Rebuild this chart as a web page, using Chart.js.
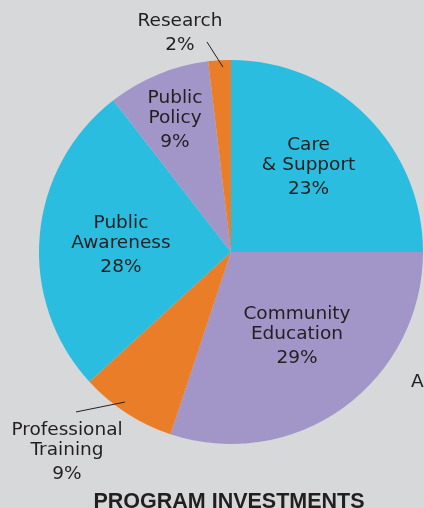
<!DOCTYPE html>
<html><head><meta charset="utf-8">
<script src="https://cdn.jsdelivr.net/npm/chart.js@4"></script>
<style>html,body{margin:0;padding:0;background:#d7d8da;overflow:hidden}#wrap{width:424px;height:508px;position:relative}canvas{display:block}</style>
</head><body><div id="wrap"><canvas id="c" width="424" height="508"></canvas></div>
<script>
const categories = ['Care & Support','Community Education','Professional Training','Public Awareness','Public Policy','Research'];
const labelLines = [['Care','& Support'],['Community','Education'],['Professional','Training'],['Public','Awareness'],['Public','Policy'],['Research']];
const sliceShares = [25.0, 30.1, 8.1, 26.3, 8.6, 1.9];
const percentLabels = ['23%','29%','9%','28%','9%','2%'];
const sliceColors = ['#2bbde0','#a295c7','#ea7d28','#2bbde0','#a295c7','#ea7d28'];
const chartTitle = 'PROGRAM INVESTMENTS';
const sideText = 'A';

const TEXT = '#231f20';
const FONT = '18.5px "DejaVu Sans"';
// label placement relative to each slice's mid angle (radius fraction, angle offset in degrees)
const place = [
  {r:0.605, da:-3.1},
  {r:0.55, da:-2.84},
  {r:1.341, da:6.62, line:[0.957,2.31,1.16,11.15]},
  {r:0.575, da:-0.46},
  {r:0.754, da:-0.44},
  {r:1.179, da:-9.6, line:[0.964,0.94,1.101,-3.1]}
];

const labelPlugin = {
  id:'sliceLabels',
  afterDraw(chart){
    const ctx = chart.ctx;
    const meta = chart.getDatasetMeta(0);
    ctx.save();
    ctx.fillStyle = TEXT;
    ctx.strokeStyle = TEXT;
    ctx.textAlign = 'center';
    ctx.textBaseline = 'alphabetic';
    ctx.font = FONT;
    meta.data.forEach((arc, i) => {
      const p = arc.getProps(['x','y','startAngle','endAngle','outerRadius'], true);
      const mid = (p.startAngle + p.endAngle) / 2;
      const R = p.outerRadius;
      const pl = place[i];
      const pt = (rf, da) => {
        const a = mid + da * Math.PI / 180;
        return [p.x + rf * R * Math.cos(a), p.y + rf * R * Math.sin(a)];
      };
      if (pl.line) {
        const a = pt(pl.line[0], pl.line[1]);
        const b = pt(pl.line[2], pl.line[3]);
        ctx.lineWidth = 1;
        ctx.beginPath(); ctx.moveTo(a[0], a[1]); ctx.lineTo(b[0], b[1]); ctx.stroke();
      }
      const lines = labelLines[i].concat([percentLabels[i]]);
      const offs = [];
      let y = 0;
      lines.forEach((l, k) => {
        if (k > 0) y += (k === lines.length - 1) ? 24 : 20;
        offs.push(y);
      });
      const c = pt(pl.r, pl.da);
      const first = c[1] - (-13.5 + offs[offs.length - 1]) / 2;
      lines.forEach((l, k) => ctx.fillText(l, c[0], first + offs[k]));
    });
    // cut-off side label at right edge
    ctx.textAlign = 'left';
    ctx.fillText(sideText, 411, 387);
    // title
    ctx.textAlign = 'center';
    ctx.font = 'bold 21.5px "Liberation Sans"';
    ctx.fillText(chartTitle, 229, 508);
    ctx.restore();
  }
};

new Chart(document.getElementById('c'), {
  type:'pie',
  data:{
    labels: categories,
    datasets:[{
      data: sliceShares,
      backgroundColor: sliceColors,
      borderWidth: 0
    }]
  },
  options:{
    responsive:false,
    animation:false,
    layout:{padding:{left:38, top:60, right:0, bottom:64}},
    plugins:{legend:{display:false}, tooltip:{enabled:false}, title:{display:false}}
  },
  plugins:[labelPlugin]
});
</script>
</body></html>
